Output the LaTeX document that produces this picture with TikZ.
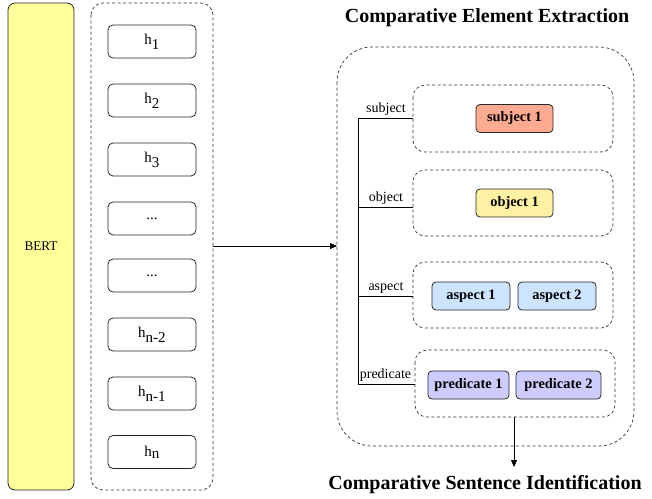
\documentclass[tikz,border=0pt]{standalone}
\usepackage{fontspec}
\setmainfont{Liberation Serif}
\usetikzlibrary{arrows.meta}
\newcommand{\hsub}[1]{h\textsubscript{\fontsize{15}{17}\selectfont #1}}
\begin{document}
\begin{tikzpicture}[x=1pt,y=-1pt,
  hbox/.style={draw=black!85, line width=0.8pt, rounded corners=5pt, minimum width=88pt, minimum height=33pt, inner sep=0pt, font=\fontsize{15}{17}\selectfont},
  dbox/.style={draw=black!80, line width=0.7pt, dash pattern=on 3pt off 2.5pt},
  cbox/.style={draw=black!85, line width=0.8pt, rounded corners=4pt, minimum height=28pt, inner sep=0pt, font=\bfseries\fontsize{14.4}{16}\selectfont},
  lbl/.style={font=\fontsize{14}{16}\selectfont, inner sep=1pt, anchor=south},
  link/.style={line width=0.8pt, black},
  ttl/.style={font=\bfseries\fontsize{20}{23}\selectfont}
]
\useasboundingbox (0,0) rectangle (652,498);
% BERT
\node[draw=black!85, line width=0.8pt, fill={rgb,255:red,255;green,255;blue,153}, rounded corners=7pt, minimum width=66pt, minimum height=487pt, inner sep=0pt, font=\fontsize{13.2}{15}\selectfont] (bert) at (41,246.5) {BERT};
% left container
\draw[dbox, rounded corners=12pt] (91,3) rectangle (213,490);
\coordinate (lc) at (213,246);
\node[hbox] (h1) at (152,41.5) {\hsub{1}};
\node[hbox] (h2) at (152,100.5) {\hsub{2}};
\node[hbox] (h3) at (152,159.5) {\hsub{3}};
\node[hbox] (d1) at (152,218.5) {...};
\node[hbox] (d2) at (152,275.5) {...};
\node[hbox] (hn2) at (152,334.5) {\hsub{n-2}};
\node[hbox] (hn1) at (152,393.5) {\hsub{n-1}};
\node[hbox] (hn) at (152,452) {\hsub{n}};
% big container
\draw[dbox, rounded corners=35pt] (337,47) rectangle (634,446);
\coordinate (bc) at (337,246);
\draw[link, -{Triangle[length=7pt,width=6pt]}] (lc) -- (bc);
\node[ttl] (t1) at (487,18) {Comparative Element Extraction};
\node[ttl] (t2) at (485,485) {Comparative Sentence Identification};
% inner dashed boxes
\draw[dbox, rounded corners=12pt] (413,85) rectangle (613,152);
\draw[dbox, rounded corners=12pt] (413,170) rectangle (613,236);
\draw[dbox, rounded corners=12pt] (413,262) rectangle (613,328);
\draw[dbox, rounded corners=12pt] (415,350) rectangle (615,417);
\coordinate (sb) at (413,118);
\coordinate (ob) at (413,207);
\coordinate (ab) at (413,296);
\coordinate (pb) at (415,384);
\coordinate (vt) at (358,118);
\coordinate (vo) at (358,207);
\coordinate (va) at (358,296);
\coordinate (vb) at (358,384);
\draw[link] (sb) -- (vt) -- (vb) -- (pb);
\draw[link] (vo) -- (ob);
\draw[link] (va) -- (ab);
\node[lbl] (ls) at (386,117) {subject};
\node[lbl] (lo) at (386,206) {object};
\node[lbl] (la) at (386,295) {aspect};
\node[lbl] (lp) at (385.5,383) {predicate};
% colored boxes
\node[cbox, fill={rgb,255:red,255;green,171;blue,145}, minimum width=77pt] (s1) at (514.5,118.5) {subject 1};
\node[cbox, fill={rgb,255:red,255;green,241;blue,164}, minimum width=77pt] (o1) at (514.5,203) {object 1};
\node[cbox, fill={rgb,255:red,204;green,228;blue,255}, minimum width=78pt] (a1) at (471,296) {aspect 1};
\node[cbox, fill={rgb,255:red,204;green,228;blue,255}, minimum width=78pt] (a2) at (557,296) {aspect 2};
\node[cbox, fill={rgb,255:red,204;green,204;blue,255}, minimum width=81pt] (p1) at (468.5,385) {predicate 1};
\node[cbox, fill={rgb,255:red,204;green,204;blue,255}, minimum width=85pt] (p2) at (558.5,385) {predicate 2};
\coordinate (pbot) at (514,417);
\coordinate (arr) at (514,467);
\draw[link, -{Triangle[length=7pt,width=6pt]}] (pbot) -- (arr);
\end{tikzpicture}
\end{document}
